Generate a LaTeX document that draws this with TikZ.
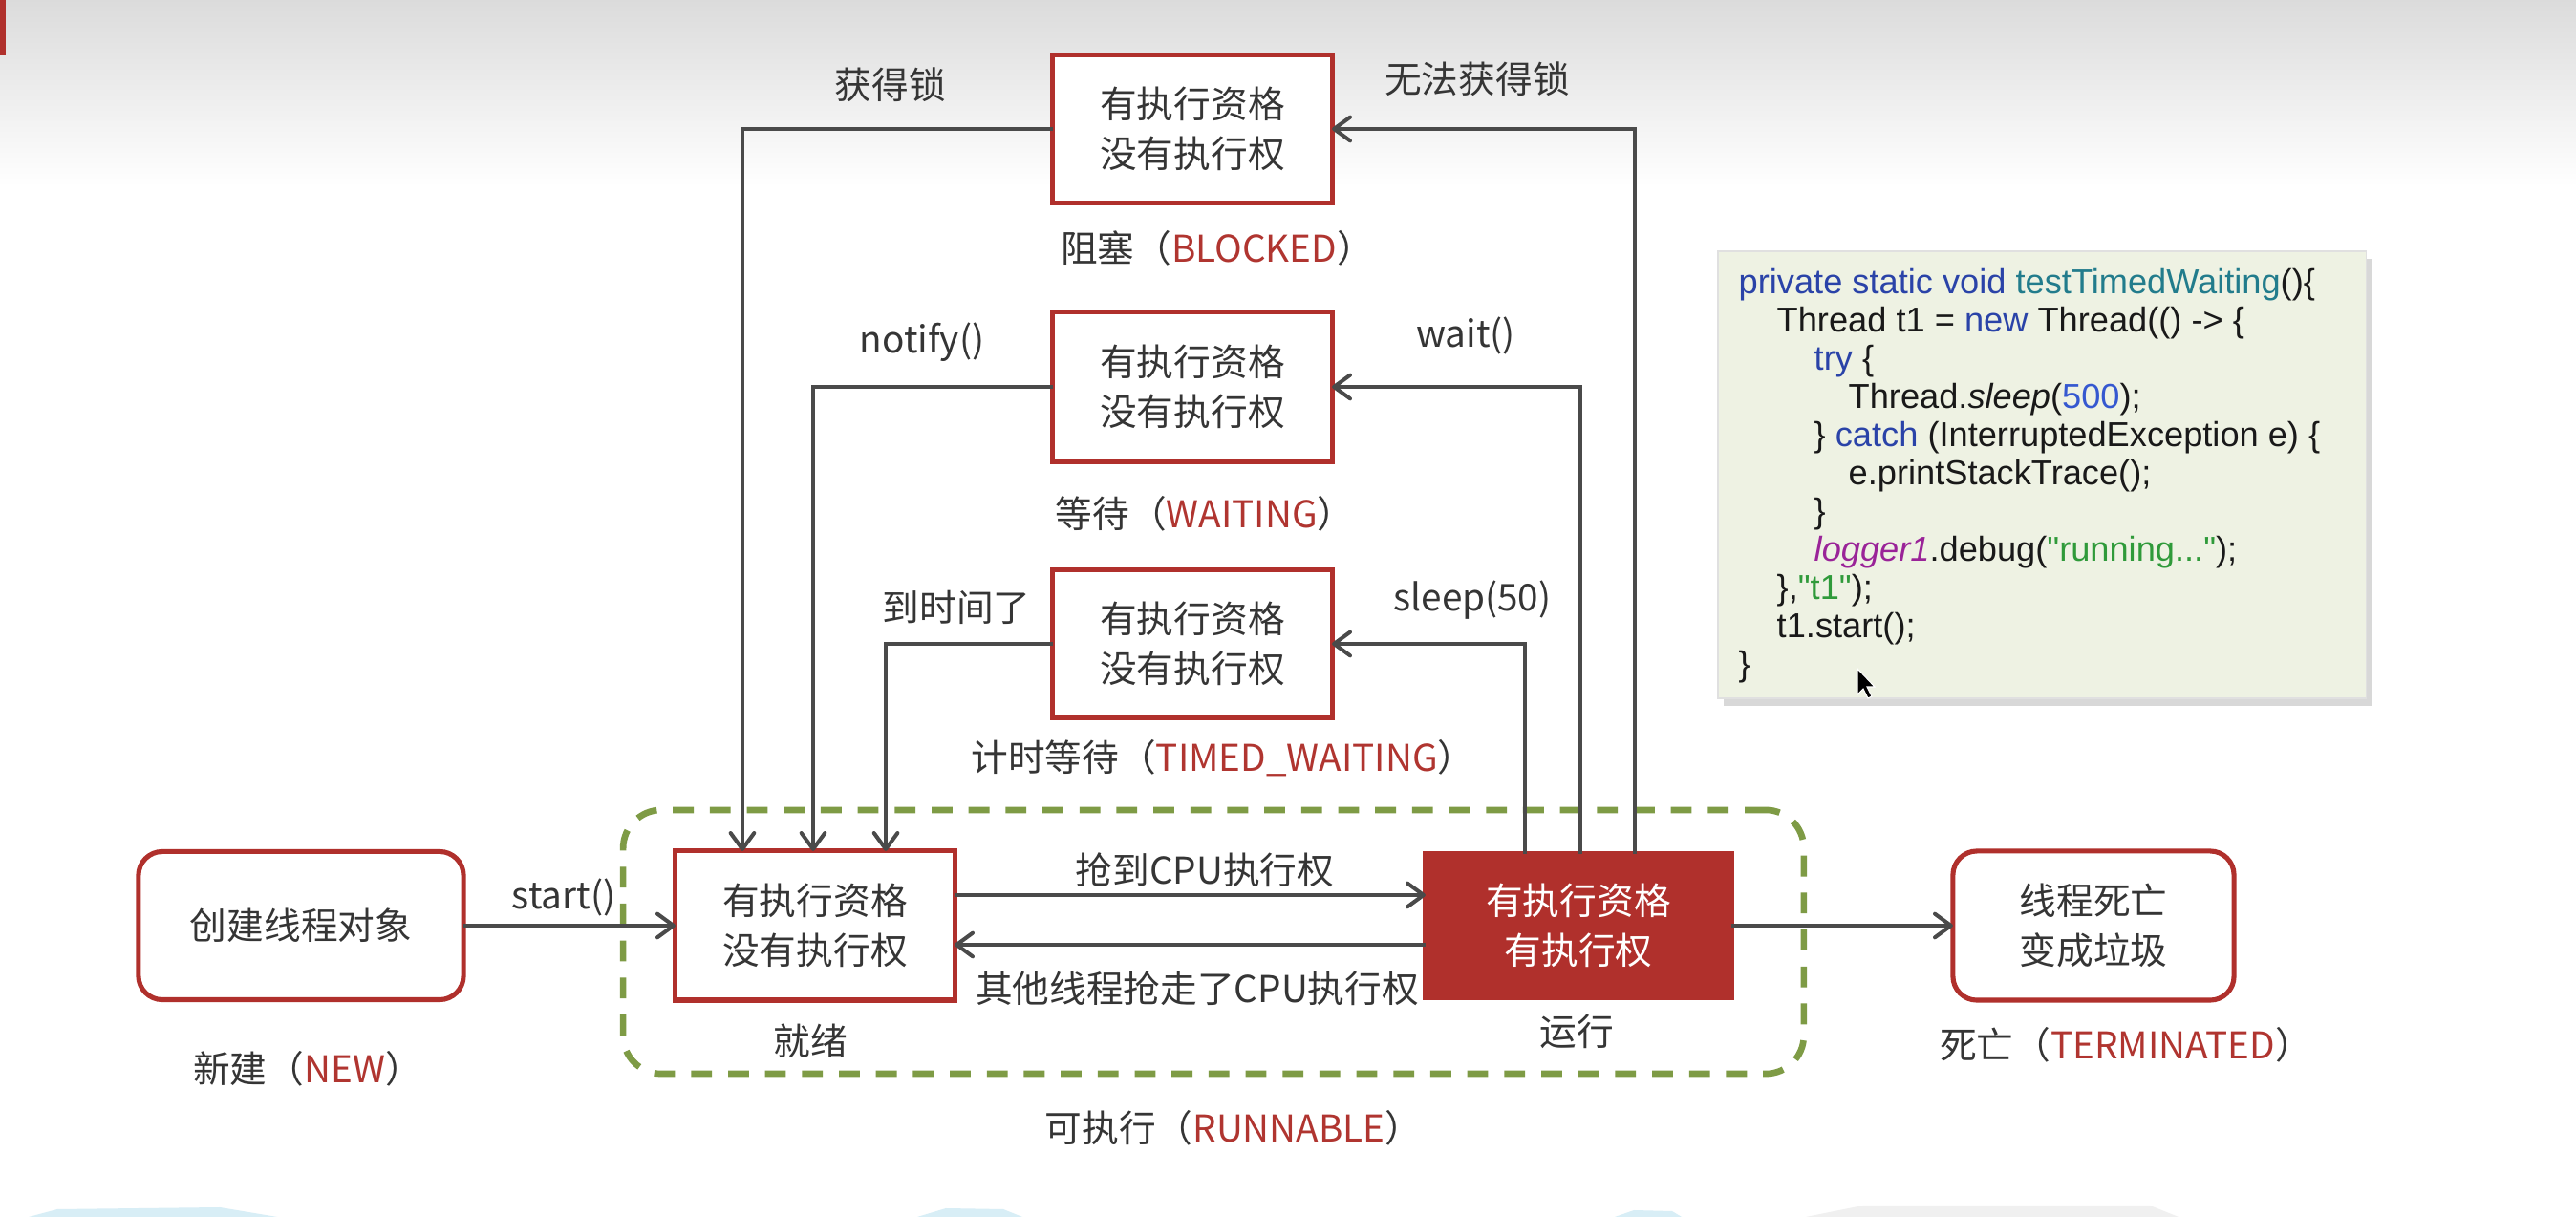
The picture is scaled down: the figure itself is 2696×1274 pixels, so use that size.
\documentclass[tikz,border=0pt]{standalone}
\usepackage{fontspec}
\setmainfont{Noto Sans CJK SC}
\newfontfamily\codefont{Liberation Sans}
\usetikzlibrary{arrows.meta,shadows}
\definecolor{boxred}{HTML}{B0302C}
\definecolor{txtred}{HTML}{B03530}
\definecolor{txtgray}{HTML}{353535}
\definecolor{linegray}{HTML}{4A4A4A}
\definecolor{dashgreen}{HTML}{7E9B45}
\definecolor{codebg}{HTML}{EEF2E3}
\definecolor{kwblue}{HTML}{2A43A8}
\definecolor{fnteal}{HTML}{227C8C}
\definecolor{numblue}{HTML}{3558D0}
\definecolor{strgreen}{HTML}{2F9A3A}
\definecolor{logpurple}{HTML}{9A2398}
\definecolor{smudge}{HTML}{D8EEF6}
\begin{document}
\begin{tikzpicture}[x=0.01cm,y=-0.01cm,
  state/.style={draw=boxred, line width=1.45pt, fill=white, minimum width=2.92cm,
    minimum height=1.55cm, align=center, text=txtgray,
    font=\fontsize{11pt}{14.7pt}\selectfont, outer sep=0pt, inner sep=0pt},
  rstate/.style={state, rounded corners=0.25cm},
  arr/.style={draw=linegray, line width=1.15pt, -{Straight Barb[length=4.8pt,width=7pt,round]}},
  lbl/.style={text=txtgray, font=\fontsize{11pt}{14pt}\selectfont, inner sep=0pt},
  codeline/.style={anchor=base west, inner sep=0pt, text=black!90,
    font=\codefont\fontsize{10.3pt}{12pt}\selectfont}
]
\useasboundingbox (0,0) rectangle (2696,1274);
\fill[white] (0,0) rectangle (2696,1274);
\shade[top color=black!14, bottom color=white] (0,0) rectangle (2696,195);
\fill[boxred] (0,0) rectangle (6,58);
% bottom smudges
\fill[smudge] (30,1274) -- (60,1266) -- (230,1264) -- (290,1274) -- cycle;
\fill[smudge] (960,1274) -- (990,1265) -- (1050,1266) -- (1070,1274) -- cycle;
\fill[smudge] (1690,1274) -- (1710,1267) -- (1750,1268) -- (1760,1274) -- cycle;
\fill[black!6] (1890,1274) -- (1950,1262) -- (2250,1262) -- (2280,1274) -- cycle;

% runnable group
\node[draw=dashgreen, line width=1.9pt, dash pattern=on 6.2pt off 4.8pt,
  rounded corners=0.4cm, minimum width=12.35cm, minimum height=2.76cm,
  inner sep=0pt] (runnable) at (1270,986) {};

% states
\node[rstate, minimum width=3.4cm] (new) at (315,969) {创建线程对象};
\node[state, minimum height=1.56cm] (ready) at (853,969) {有执行资格\\没有执行权};
\node[state, fill=boxred, draw=boxred, text=white, minimum width=3.2cm,
  minimum height=1.5cm] (run) at (1652,969) {有执行资格\\有执行权};
\node[rstate, minimum width=2.94cm, minimum height=1.56cm] (term) at (2191,969) {线程死亡\\变成垃圾};
\node[state] (blocked) at (1248,135) {有执行资格\\没有执行权};
\node[state, minimum height=1.56cm] (waiting) at (1248,405) {有执行资格\\没有执行权};
\node[state, minimum height=1.54cm] (timed) at (1248,674) {有执行资格\\没有执行权};

% labels
\node[lbl] (lblocked) at (1274,260) {阻塞（\textcolor{txtred}{BLOCKED}）};
\node[lbl] (lwaiting) at (1261,538) {等待（\textcolor{txtred}{WAITING}）};
\node[lbl] (ltimed) at (1280,794) {计时等待（\textcolor{txtred}{TIMED\_WAITING}）};
\node[lbl] (lnew) at (322,1119) {新建（\textcolor{txtred}{NEW}）};
\node[lbl] (lterm) at (2225,1094) {死亡（\textcolor{txtred}{TERMINATED}）};
\node[lbl] (lrunnable) at (1291,1181) {可执行（\textcolor{txtred}{RUNNABLE}）};
\node[lbl] (lready) at (848,1090) {就绪};
\node[lbl] (lrun) at (1650,1080) {运行};
\node[lbl] (lgetlock) at (932,89) {获得锁};
\node[lbl] (lnolock) at (1546,83) {无法获得锁};
\node[lbl] (lnotify) at (965,358) {notify()};
\node[lbl] (lwait) at (1534,351) {wait()};
\node[lbl] (ltimeup) at (1001,636) {到时间了};
\node[lbl] (lsleep) at (1541,628) {sleep(50)};
\node[lbl] (lstart) at (590,939) {start()};
\node[lbl] (lgrab) at (1261,911) {抢到CPU执行权};
\node[lbl] (llose) at (1253,1035) {其他线程抢走了CPU执行权};

% connectors
\draw[arr] (new.east) -- (ready.west);
\draw[arr] ([yshift=0.32cm]ready.east) -- ([yshift=0.32cm]ready.east -| run.west);
\draw[arr] ([yshift=-0.20cm]run.west) -- ([yshift=-0.20cm]run.west -| ready.east);
\draw[arr] (run.east) -- (term.west);
\draw[arr] (blocked.west) -| ([xshift=-0.76cm]ready.north);
\draw[arr] (waiting.west) -| ([xshift=-0.02cm]ready.north);
\draw[arr] (timed.west) -| ([xshift=0.74cm]ready.north);
\draw[arr] ([xshift=0.59cm]run.north) |- (blocked.east);
\draw[arr] ([xshift=0.02cm]run.north) |- (waiting.east);
\draw[arr] ([xshift=-0.56cm]run.north) |- (timed.east);

% code box
\node[draw=black!12, fill=codebg, minimum width=6.78cm, minimum height=4.68cm,
  inner sep=0pt, drop shadow={shadow xshift=0.06cm, shadow yshift=-0.08cm, opacity=0.3}]
  (code) at (2137,497) {};
\node[codeline] (c1) at (1819,308) {\textcolor{kwblue}{private static void} \textcolor{fnteal}{testTimedWaiting}()\{};
\node[codeline] (c2) at (1859,348) {Thread t1 = \textcolor{kwblue}{new} Thread(() -> \{};
\node[codeline] (c3) at (1898,388) {\textcolor{kwblue}{try} \{};
\node[codeline] (c4) at (1934,428) {Thread.\textit{sleep}(\textcolor{numblue}{500});};
\node[codeline] (c5) at (1898,468) {\} \textcolor{kwblue}{catch} (InterruptedException e) \{};
\node[codeline] (c6) at (1934,508) {e.printStackTrace();};
\node[codeline] (c7) at (1898,548) {\}};
\node[codeline] (c8) at (1898,588) {\textcolor{logpurple}{\textit{logger1}}.debug(\textcolor{strgreen}{"running..."});};
\node[codeline] (c9) at (1859,628) {\},\textcolor{strgreen}{"t1"});};
\node[codeline] (c10) at (1859,668) {t1.start();};
\node[codeline] (c11) at (1819,708) {\}};
% mouse pointer
\filldraw[fill=black, draw=white, line width=0.3pt] (1944,700) -- (1944,727) -- (1950,721)
  -- (1955,731) -- (1959,729) -- (1954,719) -- (1962,719) -- cycle;
\end{tikzpicture}
\end{document}
